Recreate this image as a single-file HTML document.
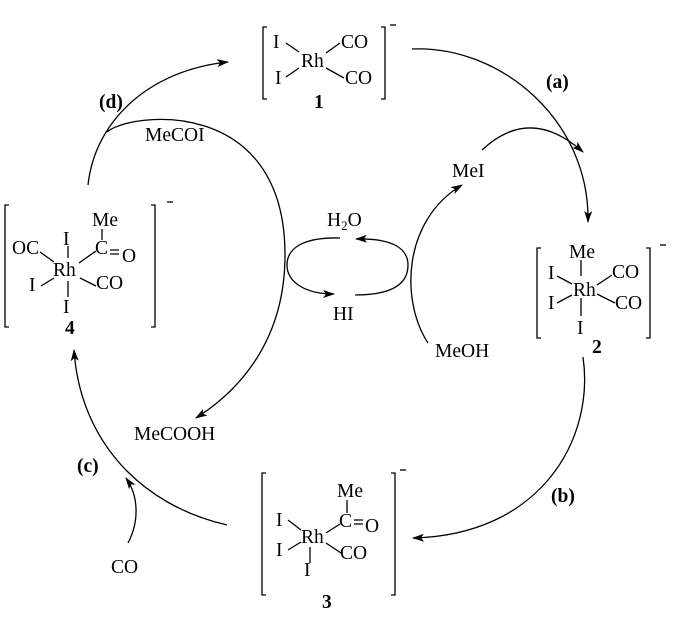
<!DOCTYPE html>
<html><head><meta charset="utf-8"><style>
html,body{margin:0;padding:0;background:#fff}
svg{display:block}
text{font-family:"Liberation Serif",serif;font-size:19.5px;fill:#000}
.b{font-weight:bold}
</style></head><body>
<svg width="681" height="620" viewBox="0 0 681 620" xmlns="http://www.w3.org/2000/svg">
<defs>
<marker id="ar" viewBox="0 0 12 8" refX="11" refY="4" markerWidth="12" markerHeight="8" markerUnits="userSpaceOnUse" orient="auto">
<path d="M0,0 L12,4 L0,8 L3,4 Z" fill="#000"/>
</marker>
</defs>
<g fill="none" stroke="#000" stroke-width="1.3">
<path d="M267,27 H263 V99 H267"/><path d="M381,27 H385 V99 H381"/><path d="M390,25 H396"/>
<path d="M286,43 L299,52"/><path d="M326,53 L340,43"/><path d="M286,77 L299,68"/><path d="M326,68 L344,78"/>
<path d="M9,205 H5 V327 H9"/><path d="M151,205 H155 V327 H151"/><path d="M167,202 H173"/>
<path d="M68,246 V258"/><path d="M68,281 V297"/><path d="M40,252 L54,262"/><path d="M41,286 L54,278"/>
<path d="M79,263 L96,251"/><path d="M80,278 L96,286"/><path d="M102,229 V240"/>
<path d="M110,250 H119 M110,254 H119"/>
<path d="M541,248 H537 V338 H541"/><path d="M646,248 H650 V338 H646"/><path d="M660,245 H666"/>
<path d="M581,260 V276"/><path d="M581,298 V316"/><path d="M557,276 L572,284"/><path d="M557,303 L572,295"/>
<path d="M597,285 L612,275"/><path d="M597,294 L615,303"/>
<path d="M266,473 H262 V595 H266"/><path d="M391,473 H395 V595 H391"/><path d="M400,470 H406"/>
<path d="M347,500 V513"/><path d="M288,520 L301,530"/><path d="M288,550 L301,542"/><path d="M310,547 V563"/>
<path d="M326,533 L340,524"/><path d="M326,543 L341,553"/>
<path d="M354,520 H363 M354,524 H363"/>
<path d="M412,49 C500,45 590,120 588,222" marker-end="url(#ar)"/>
<path d="M482,150 Q530,105 583,152" marker-end="url(#ar)"/>
<path d="M428,343 C400,300 403,220 462,185" marker-end="url(#ar)"/>
<path d="M88,185 C95,120 150,70 228,62" marker-end="url(#ar)"/>
<path d="M107,132 C130,112 285,95 285,255 C285,340 240,390 196,418" marker-end="url(#ar)"/>
<path d="M583,357 C595,440 540,535 413,538" marker-end="url(#ar)"/>
<path d="M227,525 C140,505 80,440 74,350" marker-end="url(#ar)"/>
<path d="M128,543 C140,520 138,495 126,478" marker-end="url(#ar)"/>
<path d="M340,238 C300,237 287,250 287,265 C287,282 305,294 334,294" marker-end="url(#ar)"/>
<path d="M355,295 C395,295 408,282 408,265 C408,250 395,238 356,239" marker-end="url(#ar)"/>
</g>
<text x="273" y="48">I</text><text x="301" y="67">Rh</text><text x="341" y="48">CO</text>
<text x="275" y="84">I</text><text x="345" y="84">CO</text><text x="314" y="108" class="b">1</text>
<text x="92" y="226">Me</text><text x="63" y="245">I</text><text x="95" y="254">C</text><text x="122" y="262">O</text>
<text x="12" y="254">OC</text><text x="53" y="276">Rh</text><text x="29" y="291">I</text><text x="96" y="289">CO</text>
<text x="63" y="313">I</text><text x="65" y="334" class="b">4</text>
<text x="569" y="258">Me</text><text x="548" y="279">I</text><text x="573" y="296">Rh</text><text x="612" y="278">CO</text>
<text x="548" y="309">I</text><text x="615" y="309">CO</text><text x="577" y="334">I</text><text x="592" y="353" class="b">2</text>
<text x="337" y="497">Me</text><text x="339" y="527">C</text><text x="365" y="532">O</text>
<text x="276" y="526">I</text><text x="301" y="543">Rh</text><text x="276" y="556">I</text><text x="340" y="559">CO</text>
<text x="304" y="576">I</text><text x="322" y="608" class="b">3</text>
<text x="546" y="88" class="b">(a)</text>
<text x="551" y="502" class="b">(b)</text>
<text x="77" y="472" class="b">(c)</text>
<text x="99" y="108" class="b">(d)</text>
<text x="145" y="141">MeCOI</text>
<text x="134" y="440">MeCOOH</text>
<text x="452" y="177">MeI</text>
<text x="435" y="357">MeOH</text>
<text x="111" y="573">CO</text>
<text x="327" y="226">H<tspan font-size="13" dy="4">2</tspan><tspan dy="-4">O</tspan></text>
<text x="333" y="320">HI</text>
</svg>
</body></html>
